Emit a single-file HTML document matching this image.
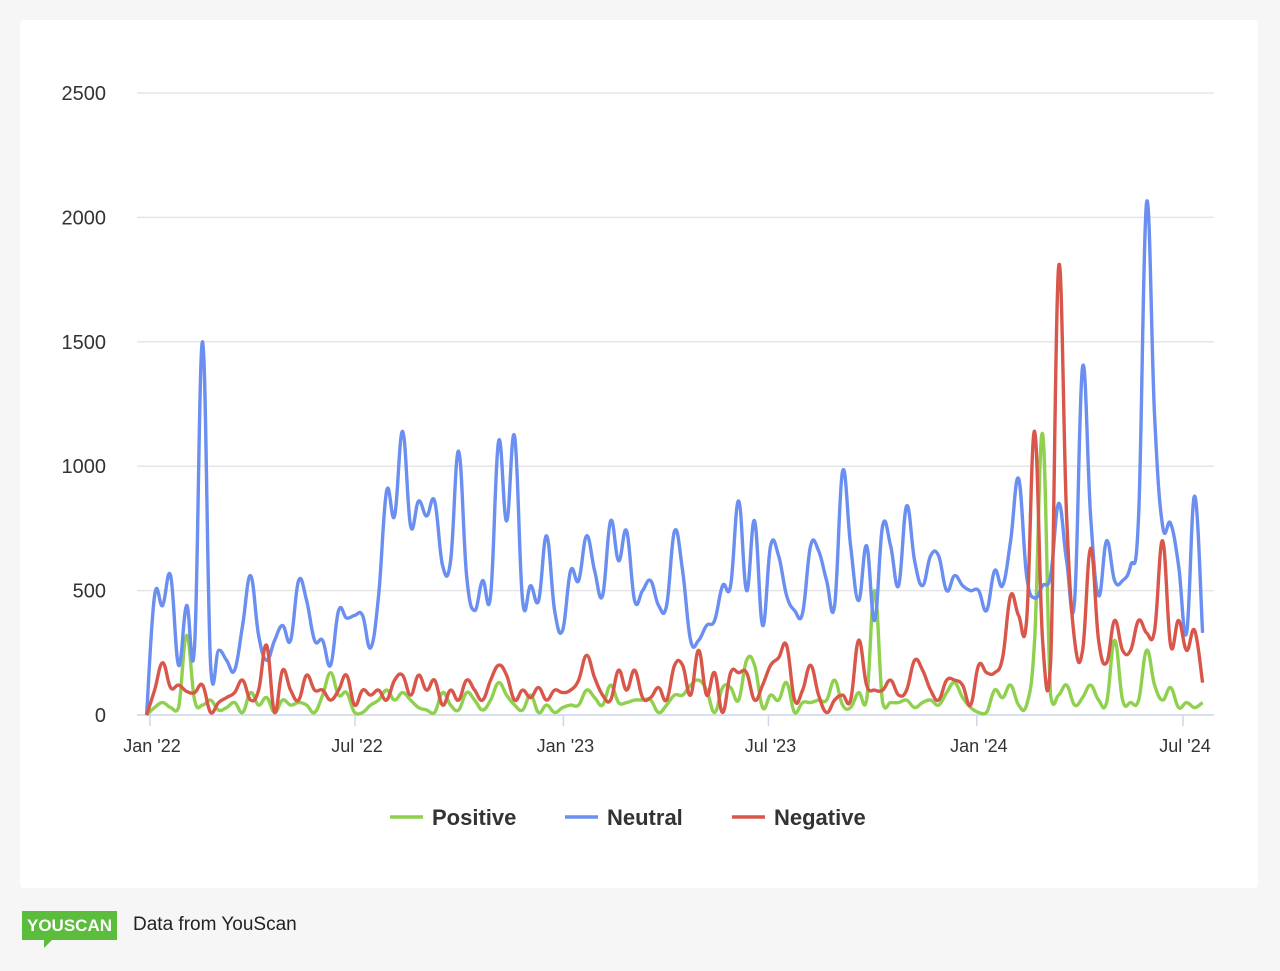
<!DOCTYPE html>
<html><head><meta charset="utf-8"><style>
body{margin:0;width:1280px;height:971px;background:#f6f6f7;font-family:"Liberation Sans",sans-serif;overflow:hidden;position:relative}
#card{position:absolute;left:20px;top:20px;width:1238px;height:868px;background:#fff;border-radius:4px}
#badge{position:absolute;left:22px;top:911px;width:95px;height:29px;background:#5cbc3c;color:#fff;font-weight:bold;font-size:17px;line-height:29px;text-align:center}
#badge:after{content:"";position:absolute;left:22px;top:29px;border-left:8px solid #5cbc3c;border-bottom:8px solid transparent}
#src{position:absolute;left:133px;top:914px;font-size:19px;color:#222}
</style></head><body>
<div id="card"></div>
<svg id="chart" width="1280" height="900" style="position:absolute;left:0;top:0"></svg>
<div id="badge">YOUSCAN</div>
<div id="src">Data from YouScan</div>
<script>
const yTicks=[0,500,1000,1500,2000,2500];
const xTickLabels=["Jan '22","Jul '22","Jan '23","Jul '23","Jan '24","Jul '24"];
const xTickDates=["2022-01-01","2022-07-01","2023-01-01","2023-07-01","2024-01-01","2024-07-01"];
const startDate="2021-12-29";
const neutral=[0,480,440,560,200,440,280,1500,200,260,220,180,360,560,320,220,300,360,300,540,460,300,300,200,420,390,400,400,270,480,900,800,1140,760,860,800,860,600,620,1060,560,420,540,480,1100,780,1120,460,520,460,720,420,340,580,540,720,580,480,780,620,740,460,500,540,440,440,740,580,300,300,360,380,520,520,860,500,780,360,680,640,480,420,410,680,660,540,440,980,680,460,680,380,760,680,520,840,620,520,640,640,500,560,520,500,500,420,580,520,700,950,560,470,520,560,850,620,460,1400,800,480,700,540,540,600,800,2060,1200,760,770,600,330,880,330];
const negative=[0,100,210,110,120,95,90,120,10,50,70,90,140,60,100,280,10,180,100,60,160,100,100,60,100,160,40,100,80,100,60,140,160,80,160,100,140,40,100,60,140,100,60,140,200,160,60,100,70,110,60,100,90,100,140,240,150,80,60,180,100,180,70,70,110,60,200,200,80,260,80,170,10,170,170,170,60,120,200,230,280,60,100,200,80,10,60,80,60,300,120,100,100,140,80,100,220,180,100,60,140,140,120,40,200,170,170,230,480,400,380,1140,300,210,1800,800,300,260,670,300,210,380,260,260,380,330,340,700,280,380,260,340,130];
const positive=[0,30,50,30,30,320,60,40,60,20,30,50,10,90,40,70,10,60,40,50,40,10,80,170,80,90,10,10,40,60,100,60,90,60,30,20,10,90,40,20,90,60,20,60,130,80,40,20,80,10,40,10,30,40,40,100,70,40,120,50,50,60,60,60,10,40,80,80,120,140,100,10,110,110,60,220,200,30,80,60,130,10,50,50,60,60,140,40,30,90,60,500,50,50,50,60,30,50,60,40,90,130,70,30,10,10,100,70,120,40,40,300,1130,80,80,120,40,70,120,60,50,300,60,50,60,260,120,60,110,30,50,30,50];
const NS="http://www.w3.org/2000/svg";
const svg=document.getElementById('chart');
const x0=150,x1=1183,d0=Date.parse("2022-01-01"),d1=Date.parse("2024-07-01");
function xDate(t){return x0+(t-d0)/(d1-d0)*(x1-x0);}
function xIdx(i){return xDate(Date.parse(startDate))+i*8;}
function y(v){return 715-v*(715-93)/2500;}
function mk(tag,attrs){const e=document.createElementNS(NS,tag);for(const k in attrs)e.setAttribute(k,attrs[k]);svg.appendChild(e);return e;}
yTicks.forEach(v=>{
 const g=mk('line',{x1:137,x2:1214,y1:y(v),y2:y(v),stroke:v===0?'#ccd6eb':'#e6e6e6','stroke-width':1.5});
 
 
 const t=mk('text',{x:106,y:y(v)+7,'text-anchor':'end','font-size':20,fill:'#333'});t.textContent=v;
 
 
});
xTickDates.forEach((d,i)=>{
 const xx=xDate(Date.parse(d));
 const l=mk('line',{x1:xx,x2:xx,y1:715,y2:726,stroke:'#ccd6eb','stroke-width':1.5});
 
 
 const t=mk('text',{x:xx+2,y:752,'text-anchor':'middle','font-size':18,fill:'#333'});t.textContent=xTickLabels[i];
 
 
});
function path(data){
 const p=data.map((v,i)=>[xIdx(i),y(v)]);
 const base=y(0);
 let d=`M${p[0][0]},${p[0][1]}`;
 for(let i=0;i<p.length-1;i++){
  const a=p[Math.max(0,i-1)],b=p[i],c=p[i+1],e=p[Math.min(p.length-1,i+2)];
  const k=0.2;
  const c1=[b[0]+(c[0]-a[0])*k,Math.min(base,b[1]+(c[1]-a[1])*k)],c2=[c[0]-(e[0]-b[0])*k,Math.min(base,c[1]-(e[1]-b[1])*k)];
  d+=`C${c1[0]},${c1[1]} ${c2[0]},${c2[1]} ${c[0]},${c[1]}`;
 }
 return d;
}
[[positive,'#8fd14f','positive-line'],[neutral,'#6a8ff0','neutral-line'],[negative,'#d9574a','negative-line']].forEach(s=>{
 const e=mk('path',{d:path(s[0]),fill:'none',stroke:s[1],'stroke-width':3.4,'stroke-linejoin':'round'});
 
 
});
[["Positive",'#8fd14f',390],["Neutral",'#6a8ff0',565],["Negative",'#d9574a',732]].forEach(s=>{
 const l=mk('line',{x1:s[2],x2:s[2]+33,y1:817,y2:817,stroke:s[1],'stroke-width':3.5});
 
 
 const t=mk('text',{x:s[2]+42,y:825,'font-size':22,'font-weight':'bold',fill:'#333'});t.textContent=s[0];
 
 
});
</script>
</body></html>
